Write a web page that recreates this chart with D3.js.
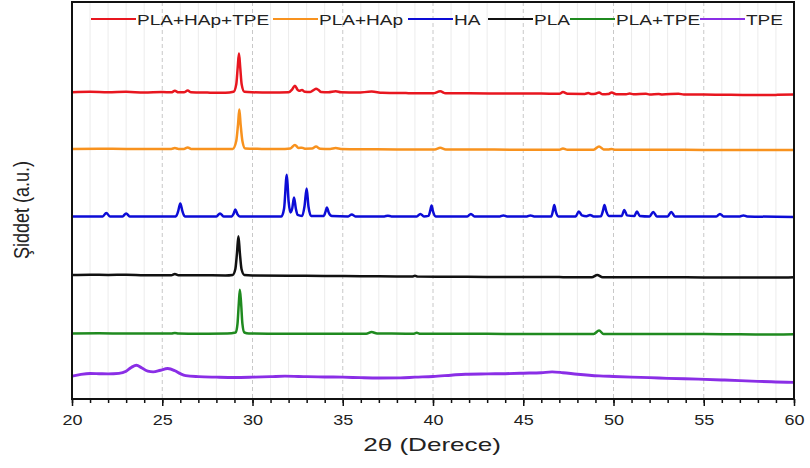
<!DOCTYPE html>
<html>
<head>
<meta charset="utf-8">
<script src="https://cdn.jsdelivr.net/npm/d3@7"></script>
<style>
  body { margin: 0; background: #fff; }
  svg { display: block; font-family: Arial, 'Liberation Sans', sans-serif; }
</style>
</head>
<body>
<svg id="chart" width="810" height="468"></svg>
<script>
// series, top to bottom as stacked in the figure
const seriesNames = ['PLA+HAp+TPE', 'PLA+HAp', 'HA', 'PLA', 'PLA+TPE', 'TPE'];
const seriesColors = ['#e8161f', '#f8921e', '#0c0cd6', '#111111', '#1f8a1f', '#8a2ee6'];
// vertical offset of every pattern (a.u.)
const offsets = [309, 252, 184, 125, 66, 23];

// [2θ, intensity above own offset]
const plaHapTpe = [
  [20, 0], [21, 0.5], [22, 0], [23, 0.5], [24, -0.3], [25, 0.2], [25.5, 0], [25.7, 1.5], [25.9, 0],
  [26.2, 0], [26.41, 1.8], [26.6, 0], [27.5, -0.3], [28.5, -0.5], [28.95, 0.5], [29.1, 8], [29.18, 25],
  [29.25, 39], [29.32, 25], [29.4, 8], [29.55, 0.5], [30, 0], [31, -0.3], [32, 0], [32.2, 3], [32.35, 6.7],
  [32.5, 2.5], [32.6, 1.5], [32.74, 2.3], [32.9, 0.5], [33.2, 0.3], [33.4, 2.5], [33.52, 3.5], [33.65, 2.5],
  [33.8, 0.3], [34.2, 0], [34.61, 1], [34.9, 0], [35.8, -0.3], [36.6, 0.7], [37.2, -0.5], [38.5, -0.8],
  [40, -1], [40.4, 1], [40.7, -1], [42, -1], [44, -1.2], [46, -1.3], [47.0, -1.5], [47.2, 0.3], [47.45, -1.5],
  [48.4, -1.6], [48.6, -0.8], [48.8, -1.8], [49.0, -1.5], [49.2, -0.3], [49.4, -2], [49.7, -1.8], [49.9, -0.3],
  [50.15, -2], [50.7, -1.9], [50.9, -1.2], [51.1, -2], [51.8, -1.5], [52.0, -2.1], [52.5, -1.6], [52.7, -2.2],
  [53.6, -1.4], [53.9, -2.2], [55, -2.3], [56.5, -2.4], [58, -2.8], [59, -2.6], [60, -2.2]
];
const plaHap = [
  [20, 0], [21.5, 0.2], [23, 0], [24.5, 0], [25.5, 0], [25.7, 0.8], [25.9, 0], [26.2, 0], [26.41, 1.5],
  [26.6, 0], [27.5, -0.2], [28.9, 0], [29.1, 8], [29.2, 25], [29.27, 39.6], [29.34, 25], [29.44, 8],
  [29.6, 0.3], [30.5, 0], [31.5, -0.2], [32.1, 0.5], [32.35, 4], [32.55, 1], [32.74, 1.2], [32.9, 0.2],
  [33.3, 0.3], [33.52, 2.3], [33.75, 0.2], [34.3, 0], [34.61, 0.8], [34.9, 0], [36.5, -0.3], [38, -0.5],
  [40.1, -0.5], [40.4, 1.2], [40.7, -0.5], [42.5, -0.6], [44.5, -0.8], [47.0, -0.8], [47.2, 0.5],
  [47.45, -0.8], [48.9, -0.8], [49.2, 2.5], [49.45, -0.5], [49.7, -0.7], [49.9, 0], [50.1, -0.9],
  [51, -0.8], [53, -0.9], [55, -1], [57, -1], [59, -1.2], [60, -1]
];
const ha = [
  [20, 0], [21.0, 0], [21.7, 0], [21.9, 3.5], [22.1, 0], [22.8, 0], [23.0, 3], [23.2, 0], [25.75, 0],
  [25.88, 5], [26.0, 13], [26.12, 5], [26.25, 0], [28.0, 0], [28.2, 3], [28.4, 0], [28.85, 0], [28.95, 2.5],
  [29.05, 7], [29.17, 2], [29.3, 0], [31.6, 0], [31.75, 8], [31.9, 42], [32.0, 15], [32.1, 4], [32.2, 8],
  [32.3, 19], [32.4, 8], [32.5, 1.5], [32.75, 0.5], [32.88, 10], [33.0, 28], [33.1, 10], [33.25, 0.5],
  [33.95, 0.5], [34.05, 5], [34.12, 9], [34.22, 4], [34.4, 0.3], [35.3, 0], [35.5, 2], [35.7, 0],
  [37.3, 0], [37.5, 0.6], [37.7, 0], [39.1, 0], [39.3, 2.5], [39.5, 0], [39.75, 0.5], [39.85, 6],
  [39.92, 11], [40.0, 5], [40.15, 0], [41.9, 0], [42.1, 2.5], [42.3, 0], [43.7, 0], [43.9, 1], [44.1, 0],
  [45.2, 0], [45.4, 1], [45.6, 0], [46.55, 0], [46.65, 6], [46.72, 11.5], [46.8, 5], [46.95, 0],
  [47.9, 0], [48.08, 5], [48.25, 1], [48.5, 0.2], [48.7, 1.5], [48.9, 0], [49.3, 0.2], [49.42, 6],
  [49.5, 11.5], [49.6, 5], [49.75, 0.5], [50.45, 0.3], [50.6, 6.5], [50.75, 1], [51.15, 0.3], [51.3, 5],
  [51.45, 0.5], [52.0, 0], [52.2, 4.5], [52.4, 0], [53.0, 0], [53.2, 4.5], [53.4, 0], [55.7, 0],
  [55.9, 2.5], [56.1, 0], [57.0, 0], [57.2, 1], [57.4, 0], [60, -0.5]
];
const pla = [
  [20, 0], [21, 0.3], [22, 0], [23, 0.2], [24, -0.2], [25.5, -0.3], [25.7, 1], [25.9, -0.3], [27, -0.3],
  [28.5, -0.5], [28.9, 0], [29.05, 6], [29.14, 22], [29.22, 39], [29.3, 22], [29.39, 6], [29.55, 0],
  [30, -0.5], [32, -0.8], [34, -1], [36, -1.2], [38, -1.5], [38.85, -1.6], [39.0, -0.8], [39.15, -1.7],
  [41, -1.8], [43, -2], [45, -2], [47, -2.2], [48.8, -2.3], [49.1, 0], [49.4, -2.3], [51, -2.3],
  [53, -2.4], [55, -2.5], [57, -2.6], [59, -2.6], [60, -2.3]
];
const plaTpe = [
  [20, 0], [21.5, 0.2], [23, 0], [24.5, 0], [25.5, 0], [25.7, 0.6], [25.9, 0], [27, -0.2], [28.6, 0],
  [29.07, 1], [29.17, 10], [29.24, 30], [29.3, 44], [29.37, 30], [29.44, 10], [29.55, 1], [29.8, 0],
  [31, -0.2], [33, -0.3], [35, -0.3], [36.3, -0.2], [36.6, 1.5], [36.9, 0], [38.5, -0.2], [38.9, -0.3],
  [39.1, 0.7], [39.3, -0.3], [41, -0.3], [43, -0.3], [45, -0.5], [47, -0.5], [48.9, -0.5], [49.2, 3],
  [49.45, -0.5], [51, -0.5], [53, -0.6], [55, -0.6], [57, -0.8], [59, -1], [60, -0.8]
];
const tpe = [
  [20, 0], [20.5, 1.8], [21.0, 2.7], [21.5, 2.5], [22.0, 2.3], [22.6, 2.8], [23.0, 5], [23.3, 9],
  [23.57, 11], [23.85, 8.5], [24.2, 5], [24.5, 4.3], [24.9, 6], [25.3, 7.7], [25.7, 5.5], [26.0, 2.5],
  [26.3, 0.5], [27, -0.5], [28, -1], [29, -1.3], [30, -1], [31, -0.5], [31.8, 0], [33, -0.5], [34, -0.8],
  [35, -1], [36, -1.5], [37, -1.8], [38.2, -1.7], [39, -1], [40, -0.3], [41, 1], [41.8, 2], [43, 2.3],
  [44, 2.5], [45, 3], [46, 3.5], [46.6, 4.3], [47.2, 3.5], [48, 2], [49.2, 0.3], [50, -0.3], [51, -1],
  [52, -1.5], [53, -2.2], [54.7, -3], [56, -3.8], [57, -4.5], [58, -5.2], [59, -5.8], [60, -6.3]
];
const patterns = [plaHapTpe, plaHap, ha, pla, plaTpe, tpe];

const xTicks = [20, 25, 30, 35, 40, 45, 50, 55, 60];
const xMinorTicks = d3.range(20, 61, 1);

// layout
const plot = { left: 72, right: 794, top: 2, bottom: 399 };
const legendLineX = [91, 273, 408, 488, 570, 700];
const stretch = 1.27; // the figure is wider than tall in its glyphs

const svg = d3.select('#chart');

const x = d3.scaleLinear().domain([20, 60]).range([plot.left, plot.right]);
const y = d3.scaleLinear().domain([0, 400]).range([plot.bottom, plot.top]);

// grid
svg.append('g')
  .selectAll('line')
  .data(xMinorTicks.filter((d) => d > 20 && d < 60))
  .enter()
  .append('line')
  .attr('x1', (d) => x(d))
  .attr('x2', (d) => x(d))
  .attr('y1', plot.top)
  .attr('y2', plot.bottom)
  .attr('stroke', (d) => (d % 5 === 0 ? '#c8c8c8' : '#ececec'))
  .attr('stroke-width', 1)
  .attr('stroke-dasharray', (d) => (d % 5 === 0 ? '4,3' : null));

// patterns
const line = d3
  .line()
  .x((d) => x(d[0]))
  .y((d) => y(d[1]))
  .curve(d3.curveMonotoneX);

svg.append('g')
  .selectAll('path')
  .data(patterns)
  .enter()
  .append('path')
  .attr('d', (d, i) => line(d.map((p) => [p[0], p[1] + offsets[i]])))
  .attr('fill', 'none')
  .attr('stroke', (d, i) => seriesColors[i])
  .attr('stroke-width', (d, i) => (i === 5 ? 2.9 : 2.5))
  .attr('stroke-linejoin', 'round');

// frame
svg.append('rect')
  .attr('x', plot.left)
  .attr('y', plot.top)
  .attr('width', plot.right - plot.left)
  .attr('height', plot.bottom - plot.top)
  .attr('fill', 'none')
  .attr('stroke', '#111')
  .attr('stroke-width', 2);

// x axis, minor then major ticks
const minorAxis = svg.append('g')
  .attr('transform', `translate(0,${plot.bottom})`)
  .call(d3.axisBottom(x).tickValues(xMinorTicks).tickSize(4).tickFormat(''));
minorAxis.select('.domain').remove();
minorAxis.selectAll('line').attr('stroke', '#111').attr('stroke-width', 1.5);

const majorAxis = svg.append('g')
  .attr('transform', `translate(0,${plot.bottom})`)
  .call(d3.axisBottom(x).tickValues(xTicks).tickSize(7).tickPadding(8));
majorAxis.select('.domain').remove();
majorAxis.selectAll('line').attr('stroke', '#111').attr('stroke-width', 1.5);
majorAxis.selectAll('text')
  .attr('fill', '#222')
  .attr('font-size', 15)
  .attr('font-family', 'Arial, "Liberation Sans", sans-serif')
  .attr('transform', 'scale(1.2,1)')
  .attr('x', 0);

// axis titles
svg.append('text')
  .attr('transform', `translate(${(plot.left + plot.right) / 2 - 1},451) scale(1.45,1)`)
  .attr('text-anchor', 'middle')
  .attr('font-size', 18)
  .attr('fill', '#222')
  .text('2θ (Derece)');

svg.append('text')
  .attr('transform', 'translate(29,210) rotate(-90) scale(1,1.2)')
  .attr('text-anchor', 'middle')
  .attr('font-size', 18)
  .attr('fill', '#222')
  .text('Şiddet (a.u.)');

// legend
const legend = svg.append('g')
  .selectAll('g')
  .data(seriesNames)
  .enter()
  .append('g')
  .attr('transform', (d, i) => `translate(${legendLineX[i]},19)`);

legend.append('line')
  .attr('x1', 0)
  .attr('x2', 45)
  .attr('stroke', (d, i) => seriesColors[i])
  .attr('stroke-width', 2);

legend.append('text')
  .attr('transform', `translate(46,5.5) scale(${stretch},1)`)
  .attr('font-size', 15)
  .attr('fill', '#222')
  .text((d) => d);
</script>
</body>
</html>
